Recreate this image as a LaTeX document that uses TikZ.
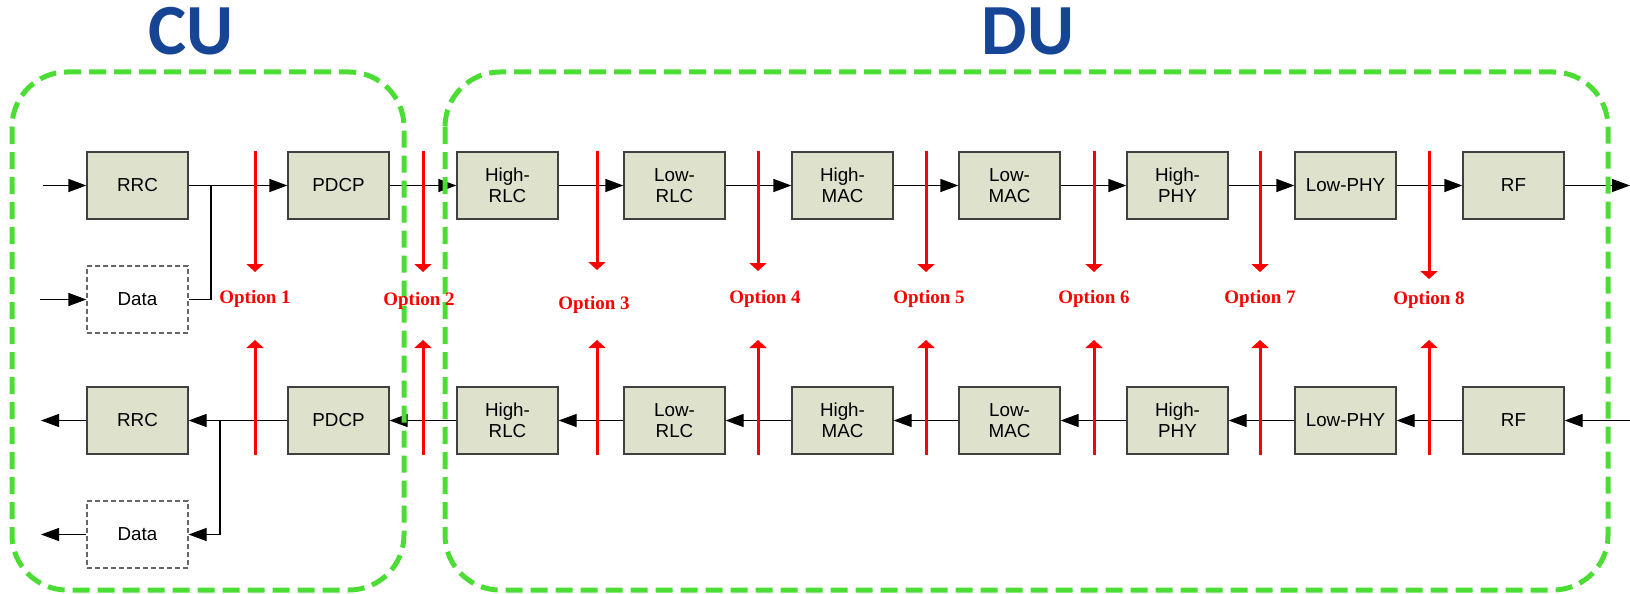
\documentclass[tikz,border=0pt]{standalone}
\usepackage{fontspec}
\setmainfont{Liberation Sans}
\newfontfamily\optfont{Liberation Serif}
\newfontfamily\titlefont{Carlito}
\usetikzlibrary{arrows.meta}
\definecolor{boxfill}{HTML}{DEE1CC}
\definecolor{cugreen}{HTML}{4CDD35}
\definecolor{titleblue}{HTML}{154594}
\definecolor{optred}{HTML}{FF0000}
\begin{document}
\begin{tikzpicture}[x=1pt,y=-1pt,
 blk/.style={draw=black!75,line width=1.2pt,fill=boxfill,minimum width=101pt,minimum height=67pt,inner sep=0pt,align=center,font=\fontsize{18.8}{21}\selectfont},
 datab/.style={draw=black!60,dash pattern=on 5pt off 3pt,line width=1.2pt,fill=white,minimum width=101pt,minimum height=67pt,inner sep=0pt,font=\fontsize{18.8}{21}\selectfont},
 conn/.style={line width=1.2pt,-{Triangle[length=18pt,width=13pt]}},
 plainline/.style={line width=1.2pt},
 cut/.style={optred,line width=3pt,-{Triangle[length=8pt,width=17pt]}},
 optlabel/.style={text=optred,inner sep=0pt,font=\optfont\bfseries\fontsize{19}{22}\selectfont},
 region/.style={draw=cugreen,line width=5pt,dash pattern=on 17pt off 8pt,rounded corners=55pt},
 titletext/.style={text=titleblue,inner sep=0pt,font=\titlefont\bfseries\fontsize{72}{80}\selectfont}]
\useasboundingbox (0,0) rectangle (1630,594);

% titles
\node[titletext] (cu) at (191,31) {CU};
\node[titletext] (du) at (1028,31) {DU};

% top row
\node[blk] (t1) at (137.5,185.5) {RRC};
\node[blk] (t2) at (338.5,185.5) {PDCP};
\node[blk] (t3) at (507.5,185.5) {High-\\RLC};
\node[blk] (t4) at (674.5,185.5) {Low-\\RLC};
\node[blk] (t5) at (842.5,185.5) {High-\\MAC};
\node[blk] (t6) at (1009.5,185.5) {Low-\\MAC};
\node[blk] (t7) at (1177.5,185.5) {High-\\PHY};
\node[blk] (t8) at (1345.5,185.5) {Low-PHY};
\node[blk] (t9) at (1513.5,185.5) {RF};
\node[datab] (dtop) at (137.5,299.5) {Data};

% bottom row
\node[blk] (b1) at (137.5,420.5) {RRC};
\node[blk] (b2) at (338.5,420.5) {PDCP};
\node[blk] (b3) at (507.5,420.5) {High-\\RLC};
\node[blk] (b4) at (674.5,420.5) {Low-\\RLC};
\node[blk] (b5) at (842.5,420.5) {High-\\MAC};
\node[blk] (b6) at (1009.5,420.5) {Low-\\MAC};
\node[blk] (b7) at (1177.5,420.5) {High-\\PHY};
\node[blk] (b8) at (1345.5,420.5) {Low-PHY};
\node[blk] (b9) at (1513.5,420.5) {RF};
\node[datab] (dbot) at (137.5,534.5) {Data};

% free ends
\coordinate (inR) at (43,185.5);
\coordinate (inD) at (40,299.5);
\coordinate (outTop) at (1630,185.5);
\coordinate (jt) at (211,185.5);
\coordinate (inBot) at (1630,420.5);
\coordinate (outR) at (41,420.5);
\coordinate (outD) at (41,534.5);
\coordinate (jb) at (220,420.5);

% top connectors
\draw[conn] (inR) -- (t1.west);
\draw[conn] (inD) -- (dtop.west);
\draw[plainline] (dtop.east) -| (jt);
\foreach \a/\b in {t1/t2,t2/t3,t3/t4,t4/t5,t5/t6,t6/t7,t7/t8,t8/t9}
  \draw[conn] (\a.east) -- (\b.west);
\draw[conn] (t9.east) -- (outTop);

% bottom connectors
\draw[conn] (inBot) -- (b9.east);
\foreach \a/\b in {b9/b8,b8/b7,b7/b6,b6/b5,b5/b4,b4/b3,b3/b2,b2/b1}
  \draw[conn] (\a.west) -- (\b.east);
\draw[conn] (b1.west) -- (outR);
\draw[conn] (jb) |- (dbot.east);
\draw[conn] (dbot.west) -- (outD);

% regions
\draw[region] (12,72) rectangle (404,590);
\draw[region] (445,72) rectangle (1608,590);

% split options
\foreach \i/\x/\lx/\ly/\tip in {1/255/255/299/272,2/423/419/301/272,3/597/594/305/270,4/758/765/299/271,5/926/929/299/272,6/1094/1094/299/272,7/1260/1260/299/272,8/1429/1429/300/279}{
  \coordinate (ds\i) at (\x,151);
  \coordinate (de\i) at (\x,\tip);
  \coordinate (us\i) at (\x,455);
  \coordinate (ue\i) at (\x,340);
  \draw[cut] (ds\i) -- (de\i);
  \draw[cut] (us\i) -- (ue\i);
  \node[optlabel] (opt\i) at (\lx,\ly) {Option \i};
}
\end{tikzpicture}
\end{document}
